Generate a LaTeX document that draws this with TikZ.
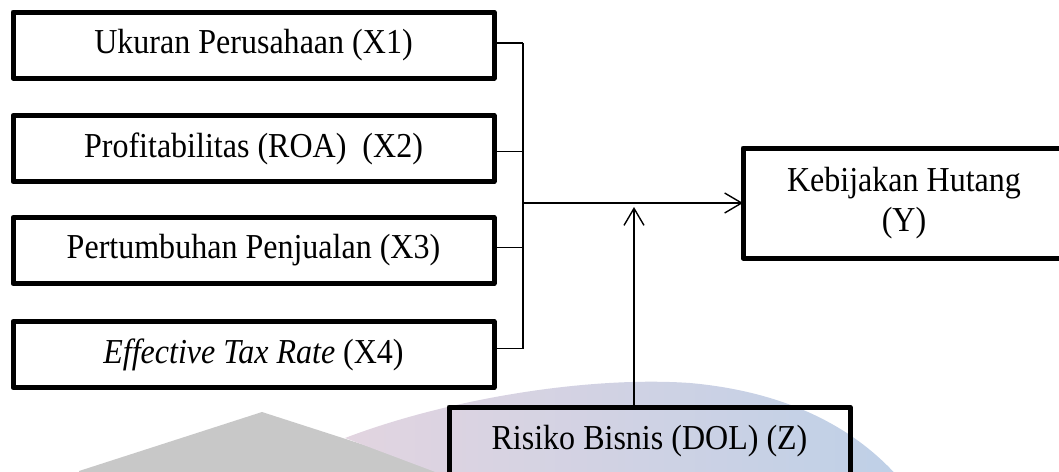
\documentclass[tikz,border=0pt]{standalone}
\usepackage{fontspec}
\setmainfont[FakeStretch=0.915]{Liberation Serif}
\usetikzlibrary{arrows.meta}
\definecolor{wmgray}{RGB}{200,200,200}
\definecolor{wmpink}{RGB}{226,212,224}
\definecolor{wmblue}{RGB}{190,208,231}
\begin{document}
\begin{tikzpicture}[x=0.5pt,y=-0.5pt,
  varbox/.style={draw,line width=2.5pt,line join=round,outer sep=0pt,
    inner sep=0pt,align=center,font=\fontsize{17.5}{20}\selectfont},
  link/.style={line width=0.7pt},
  linkarrow/.style={line width=0.7pt,-{Straight Barb[length=8.5pt,width=10pt,line width=0.7pt]}}]
\useasboundingbox (0,0) rectangle (1059,471);

% background emblem
\begin{scope}
\clip (0,0) rectangle (1059,471);
\fill[wmgray] (262,412) -- (445,471) -- (445,480) -- (79,480) -- (79,471) -- cycle;
\shade[left color=wmpink,right color=wmblue,shading=axis]
  (345,438) .. controls (450,398) and (590,376) .. (690,383)
  .. controls (790,392) and (860,430) .. (905,485)
  -- (470,485) -- cycle;
\end{scope}

% independent variables
\node[varbox,minimum width=240.5pt,minimum height=33pt] (x1) at (253.5,45) {Ukuran Perusahaan (X1)};
\node[varbox,minimum width=240.5pt,minimum height=33pt] (x2) at (253.5,148.5) {Profitabilitas (ROA)\ \ (X2)};
\node[varbox,minimum width=240.5pt,minimum height=33pt] (x3) at (253.5,250.5) {Pertumbuhan Penjualan (X3)};
\node[varbox,minimum width=240.5pt,minimum height=33pt] (x4) at (253.5,354.5) {\textit{Effective Tax Rate} (X4)};

% dependent variable (its right side runs past the page edge)
\begin{scope}
\clip (0,0) rectangle (1059,471);
\node[varbox,minimum width=161pt,minimum height=55pt] (y) at (904,203) {Kebijakan Hutang\\(Y)};
\end{scope}

% moderating variable
\begin{scope}
\clip (0,0) rectangle (1059,471);
\node[varbox,minimum width=200.5pt,minimum height=34.5pt] (z) at (649.5,441.5) {Risiko Bisnis (DOL) (Z)};
\end{scope}

% collecting bus
\coordinate (bx) at (523,0);
\coordinate (ua) at (634,207);
\coordinate (b1) at ([yshift=1pt]x1.east -| bx);
\coordinate (b4) at ([yshift=3pt]x4.east -| bx);
\draw[link] ([yshift=1pt]x1.east) -- (b1);
\draw[link] ([yshift=-1.5pt]x2.east) -- ([yshift=-1.5pt]x2.east -| bx);
\draw[link] ([yshift=1.5pt]x3.east) -- ([yshift=1.5pt]x3.east -| bx);
\draw[link] ([yshift=3pt]x4.east) -- (b4);
\draw[link] (b1) -- (b4);

% arrows
\draw[linkarrow] (y.west -| bx) -- (y.west);
\draw[linkarrow] (z.north -| ua) -- (ua);
\end{tikzpicture}
\end{document}
